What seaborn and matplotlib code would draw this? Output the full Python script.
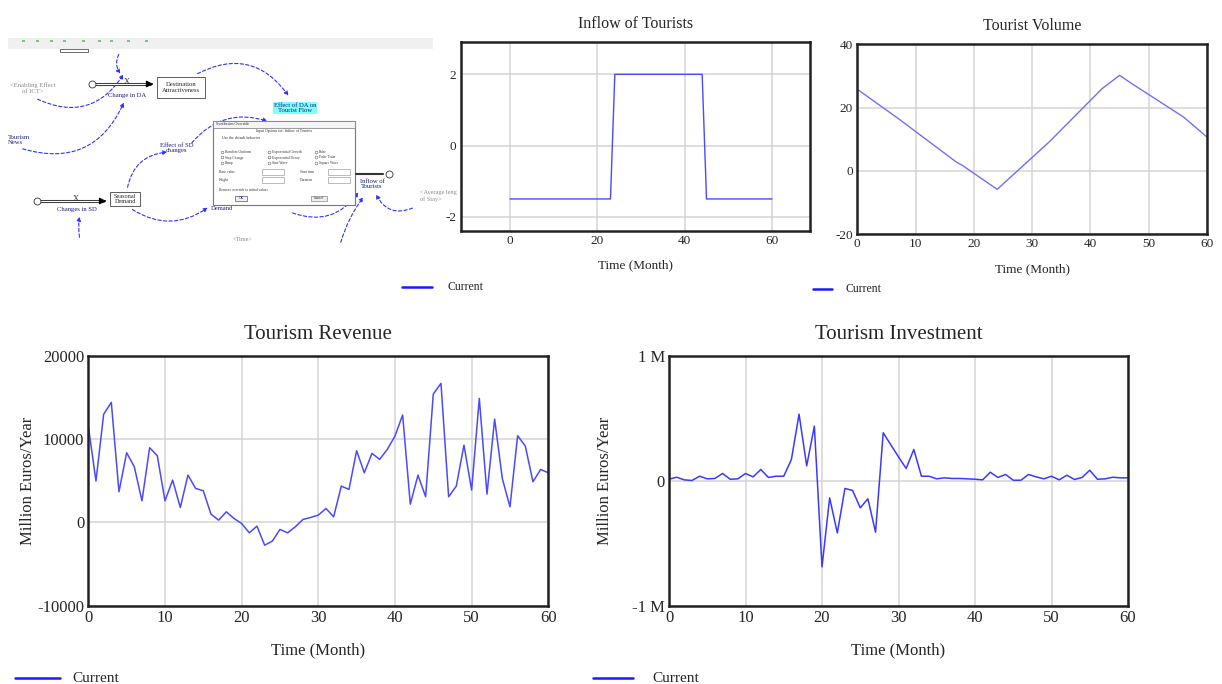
import numpy as np
import pandas as pd
import seaborn as sns
import matplotlib.pyplot as plt
from matplotlib.lines import Line2D
from matplotlib.patches import Rectangle, FancyArrowPatch
from matplotlib.ticker import FuncFormatter

sns.set_style("white")
plt.rcParams["font.family"] = ["Liberation Serif", "DejaVu Serif"]
plt.rcParams["axes.unicode_minus"] = False

# ---- data ----
months = list(range(61))

inflow_t = [0, 23, 24, 44, 45, 60]
inflow_v = [-1.5, -1.5, 2.0, 2.0, -1.5, -1.5]

volume_t = [0, 7, 17, 18, 24, 33, 42, 45, 47, 56, 60]
volume_v = [25.8, 16.6, 2.8, 1.8, -5.8, 9.3, 26.0, 30.2, 27.7, 17.0, 10.7]

revenue = [
    11580, 4970, 12990, 14430, 3690, 8380, 6690, 2600, 8980, 8020,
    2600, 5090, 1800, 5690, 4090, 3810, 1000, 280, 1280, 480,
    -120, -1240, -440, -2730, -2240, -840, -1240, -520, 360, 600,
    880, 1680, 680, 4370, 3970, 8620, 5970, 8300, 7580, 8780,
    10380, 12910, 2200, 5690, 3090, 15430, 16710, 3090, 4370, 9300,
    3890, 14910, 3410, 12420, 5290, 1880, 10420, 9180, 4890, 6370,
    5970,
]

investment_k = [
    13, 29, 8, 3, 37, 16, 19, 59, 13, 16,
    59, 32, 91, 27, 37, 37, 171, 534, 120, 438,
    -689, -136, -417, -61, -77, -216, -144, -411, 385, 288,
    192, 99, 251, 37, 37, 16, 24, 19, 19, 16,
    13, 8, 69, 27, 51, 5, 5, 51, 32, 16,
    37, 8, 45, 11, 27, 85, 13, 16, 29, 24,
    24,
]

W, H = 1222, 684
fig = plt.figure(figsize=(W / 100, H / 100), dpi=100)
LINE = "#4a4aff"


def box(l, t, r, b):
    return [l / W, 1 - b / H, (r - l) / W, (b - t) / H]


def style(ax, fs):
    for s in ax.spines.values():
        s.set_linewidth(1.8)
        s.set_color("#222222")
    ax.grid(True, color="#d4d4d4", linewidth=1.1)
    ax.tick_params(length=0, labelsize=fs, pad=3)


def legend(x0, x1, y, tx, fs):
    fig.add_artist(Line2D([x0 / W, x1 / W], [1 - y / H, 1 - y / H], color="#1a1aff", lw=1.8))
    fig.text(tx / W, 1 - y / H, "Current", fontsize=fs, va="center", ha="left")


# ---- Inflow of Tourists ----
ax1 = fig.add_axes(box(460.7, 42.3, 810, 231))
sns.lineplot(x=inflow_t, y=inflow_v, ax=ax1, color=LINE, lw=1.0)
ax1.set_xlim(-11.3, 68.7)
ax1.set_ylim(-2.4, 2.9)
ax1.set_xticks([0, 20, 40, 60])
ax1.set_yticks([-2, 0, 2])
style(ax1, 9.5)
ax1.set_title("Inflow of Tourists", fontsize=11.5, pad=10)
ax1.set_xlabel("Time (Month)", fontsize=9.5, labelpad=9)
legend(402, 432, 287, 447, 8.5)

# ---- Tourist Volume ----
ax2 = fig.add_axes(box(857.3, 44.3, 1207, 234.3))
sns.lineplot(x=volume_t, y=volume_v, ax=ax2, color="#7070ff", lw=1.0)
ax2.set_xlim(0, 60)
ax2.set_ylim(-20, 40)
ax2.set_xticks(range(0, 61, 10))
ax2.set_yticks([-20, 0, 20, 40])
style(ax2, 9.5)
ax2.set_title("Tourist Volume", fontsize=11.5, pad=10)
ax2.set_xlabel("Time (Month)", fontsize=9.5, labelpad=9)
legend(813, 832, 289, 845, 8.5)

# ---- Tourism Revenue ----
ax3 = fig.add_axes(box(88.3, 356, 548.3, 605.7))
sns.lineplot(x=months, y=revenue, ax=ax3, color=LINE, lw=1.1)
ax3.set_xlim(0, 60)
ax3.set_ylim(-10000, 20000)
ax3.set_xticks(range(0, 61, 10))
ax3.set_yticks([-10000, 0, 10000, 20000])
style(ax3, 12)
ax3.set_title("Tourism Revenue", fontsize=15, pad=12)
ax3.set_xlabel("Time (Month)", fontsize=12, labelpad=12)
ax3.set_ylabel("Million Euros/Year", fontsize=12, labelpad=1)
legend(15, 60, 678, 72, 11)

# ---- Tourism Investment ----
inv = pd.DataFrame({"t": months, "v": [k * 1000 for k in investment_k]})
ax4 = fig.add_axes(box(669, 356, 1128, 605.7))
sns.lineplot(data=inv, x="t", y="v", ax=ax4, color="#3a3aff", lw=1.1)
ax4.set_xlim(0, 60)
ax4.set_ylim(-1e6, 1e6)
ax4.set_xticks(range(0, 61, 10))
ax4.set_yticks([-1e6, 0, 1e6])
ax4.yaxis.set_major_formatter(FuncFormatter(lambda v, p: "0" if v == 0 else "%d M" % round(v / 1e6)))
style(ax4, 12)
ax4.set_title("Tourism Investment", fontsize=15, pad=12)
ax4.set_xlabel("Time (Month)", fontsize=12, labelpad=12)
ax4.set_ylabel("Million Euros/Year", fontsize=12, labelpad=14)
legend(593, 633, 678, 652, 11)

# ---- model diagram screenshot (top left) ----
axd = fig.add_axes(box(0, 0, 440, 250))
axd.set_xlim(0, 440)
axd.set_ylim(250, 0)
axd.axis("off")
BL = "#3030ff"
GR = "#8a8a8a"

axd.add_patch(Rectangle((8, 38), 425, 11, color="#f0f0f0", lw=0))
for x in [22, 36, 50, 63, 82, 98, 110, 127, 145]:
    axd.add_patch(Rectangle((x, 40), 3, 2, color="#7cc47c", lw=0))
axd.add_patch(Rectangle((60, 48.5), 28, 3, fc="white", ec="#555555", lw=0.6))


def arc(p0, p1, rad, col=BL):
    axd.add_patch(FancyArrowPatch(p0, p1, connectionstyle="arc3,rad=%s" % rad,
                                  arrowstyle="-|>", mutation_scale=6, color=col,
                                  lw=0.8, linestyle=(0, (3, 2))))


def pipe(x0, x1, y):
    axd.plot([x0, x1], [y, y], color="#333333", lw=2.2)
    axd.plot([x0, x1], [y, y], color="white", lw=0.8)
    axd.annotate("", (x1 + 6, y), (x1 - 1, y), arrowprops=dict(arrowstyle="-|>", color="black", lw=0.8))
    axd.plot([x0 - 3], [y], marker="o", ms=5, mfc="white", mec="#333333", mew=0.6)


pipe(95, 150, 84)
axd.text(127, 82, "X", fontsize=6, ha="center", va="center", color="#333333")
axd.add_patch(Rectangle((157, 77), 48, 21, fc="white", ec="#444444", lw=0.6))
axd.text(181, 87.5, "Destination\nAttractiveness", fontsize=4.8, ha="center", va="center", linespacing=1.1)
axd.text(127, 95, "Change in DA", fontsize=4.8, ha="center", va="center", color="#1a1a80")
axd.text(33, 88, "<Enabling Effect\nof ICT>", fontsize=4.8, ha="center", va="center", color=GR, linespacing=1.1)
axd.text(295, 108, "Effect of DA on\nTourist Flow", fontsize=4.8, ha="center", va="center",
         color="#1a1a80", linespacing=1.1, bbox=dict(fc="#7fffff", ec="none", pad=0.6))
axd.text(8, 140, "Tourism\nNews", fontsize=4.8, ha="left", va="center", color="#1a1a80", linespacing=1.1)
axd.text(177, 148, "Effect of SD\nchanges", fontsize=4.8, ha="center", va="center", color="#1a1a80", linespacing=1.1)

pipe(40, 103, 201)
axd.text(76, 199, "X", fontsize=6, ha="center", va="center", color="#333333")
axd.add_patch(Rectangle((110, 192), 30, 14, fc="white", ec="#444444", lw=0.6))
axd.text(125, 199, "Seasonal\nDemand", fontsize=4.5, ha="center", va="center", linespacing=1.1)
axd.text(77, 210, "Changes in SD", fontsize=4.8, ha="center", va="center", color="#1a1a80")
axd.text(222, 209, "Demand", fontsize=4.8, ha="center", va="center", color="#1a1a80")
axd.text(372, 184, "Inflow of\nTourists", fontsize=4.8, ha="center", va="center", color="#1a1a80", linespacing=1.1)
axd.plot([356, 383], [174, 174], color="#333333", lw=1.5)
axd.plot([389], [174], marker="o", ms=5, mfc="white", mec="#333333", mew=0.6)
axd.text(420, 196, "<Average leng\nof Stay>", fontsize=4.5, ha="left", va="center", color=GR, linespacing=1.1)
axd.text(243, 240, "<Time>", fontsize=4.5, ha="center", va="center", color=GR)

arc((120, 52), (122, 76), 0.35)
arc((35, 98), (125, 72), 0.45)
arc((20, 148), (125, 100), 0.45)
arc((195, 75), (290, 98), -0.45)
arc((127, 190), (170, 152), -0.4)
arc((130, 208), (210, 206), 0.35)
arc((80, 240), (80, 214), -0.1)
arc((415, 207), (375, 192), -0.5)
arc((340, 245), (365, 195), -0.1)
arc((290, 212), (360, 190), 0.4)
arc((190, 145), (270, 122), -0.35)

# dialog window
axd.add_patch(Rectangle((213, 121), 142, 84, fc="white", ec="#777777", lw=0.8))
axd.add_patch(Rectangle((213, 121), 142, 7, fc="#f4f4f4", ec="#777777", lw=0.5))
axd.text(216, 124.5, "Synthesim Override", fontsize=3, va="center", color="#333333")
axd.text(284, 131, "Input Options for: Inflow of Tourists", fontsize=2.8, ha="center", va="center", color="#333333")
axd.text(222, 138, "Use the default behavior", fontsize=2.8, va="center", color="#333333")
opts = ["Random Uniform", "Step Change", "Ramp", "Exponential Growth", "Exponential Decay",
        "Sine Wave", "Pulse", "Pulse Train", "Square Wave"]
for i, o in enumerate(opts):
    cx = 222 + (i // 3) * 47
    cy = 152 + (i % 3) * 5.5
    axd.plot([cx], [cy], marker="o", ms=2, mfc="white", mec="#666666", mew=0.4)
    axd.text(cx + 3, cy, o, fontsize=2.6, va="center", color="#333333")
for lab, y in [("Base value", 172), ("Height", 180)]:
    axd.text(219, y, lab, fontsize=2.6, va="center", color="#333333")
    axd.add_patch(Rectangle((262, y - 3), 22, 6, fc="white", ec="#888888", lw=0.4))
for lab, y in [("Start time", 172), ("Duration", 180)]:
    axd.text(300, y, lab, fontsize=2.6, va="center", color="#333333")
    axd.add_patch(Rectangle((328, y - 3), 22, 6, fc="white", ec="#888888", lw=0.4))
axd.text(219, 190, "Remove override to initial values", fontsize=2.6, va="center", color="#333333")
axd.add_patch(Rectangle((235, 196), 12, 5, fc="#eeeeee", ec="#5555aa", lw=0.5))
axd.text(241, 198.5, "OK", fontsize=2.6, ha="center", va="center")
axd.add_patch(Rectangle((311, 196), 16, 5, fc="#eeeeee", ec="#888888", lw=0.5))
axd.text(319, 198.5, "Cancel", fontsize=2.6, ha="center", va="center")

fig.savefig("out.png", dpi=100)
